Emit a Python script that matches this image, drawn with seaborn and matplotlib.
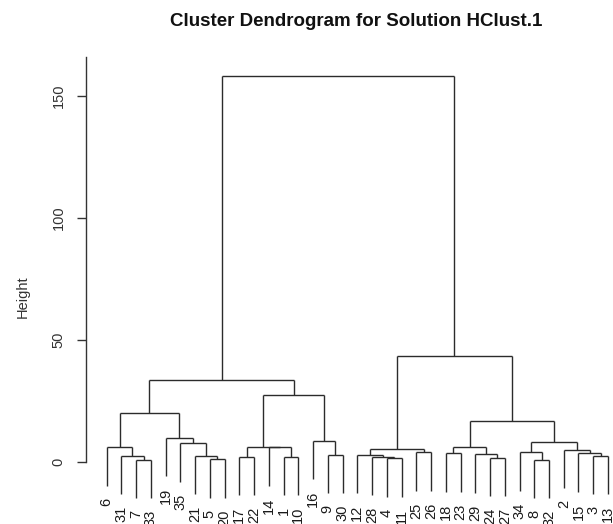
import numpy as np
import pandas as pd
import matplotlib
matplotlib.use("Agg")
import matplotlib.pyplot as plt
import seaborn as sns

# ---- data: hierarchical clustering merges (R hclust convention) ----
# negative = leaf (observation number), positive = earlier merge (1-based)
merge_a = [-8, -7, -5, -4, -24, -28, -1, -17, -3, -31, -21, -12, -9, -29, -18, -15, -25,
           -34, -2, 12, -6, -14, 15, 8, -35, 18, -16, -19, 23, 21, 24, 30, 20, 32]
merge_b = [-32, -33, -20, -11, -27, 4, -10, -22, -13, 2, 3, 6, -30, 5, -23, 9, -26,
           1, 16, 17, 10, 7, 14, 22, 11, 19, 13, 25, 26, 28, 27, 31, 29, 33]
merge_h = [0.7, 0.8, 0.9, 1.3, 1.5, 2.0, 2.0, 2.1, 2.3, 2.5, 2.5, 2.9, 2.9, 3.0, 3.4, 3.4, 3.8,
           3.8, 4.8, 5.2, 5.9, 5.9, 5.9, 6.0, 7.5, 8.2, 8.6, 9.7, 16.6, 19.9, 27.2, 33.3, 43.5, 158.0]
y_ticks = [0, 50, 100, 150]
title = "Cluster Dendrogram for Solution HClust.1"
y_label = "Height"

# ---- compute leaf order and node positions ----
n_merge = len(merge_h)
root = n_merge

def leaves_of(node):
    if node < 0:
        return [-node]
    return leaves_of(merge_a[node - 1]) + leaves_of(merge_b[node - 1])

order = leaves_of(root)
leaf_x = {leaf: i + 1 for i, leaf in enumerate(order)}
hang = 0.1 * (max(merge_h) - min(merge_h))

node_x = {}
def xpos(node):
    if node < 0:
        return leaf_x[-node]
    if node not in node_x:
        node_x[node] = (xpos(merge_a[node - 1]) + xpos(merge_b[node - 1])) / 2
    return node_x[node]

segs = []
leaf_bottom = {}
for k in range(1, n_merge + 1):
    h = merge_h[k - 1]
    ca, cb = merge_a[k - 1], merge_b[k - 1]
    xa, xb = xpos(ca), xpos(cb)
    segs.append(((xa, xb), (h, h)))
    for c, xc in ((ca, xa), (cb, xb)):
        if c < 0:
            y0 = h - hang
            leaf_bottom[-c] = y0
        else:
            y0 = merge_h[c - 1]
        segs.append(((xc, xc), (y0, h)))

# ---- plot ----
sns.set_theme(style="white")
plt.rcParams["font.family"] = ["Liberation Sans", "DejaVu Sans"]

W, H = 613, 524
fig = plt.figure(figsize=(W / 100, H / 100), dpi=100)
ax_l, ax_r, ax_t, ax_b = 86, 613, 57, 515
ax = fig.add_axes([ax_l / W, 1 - ax_b / H, (ax_r - ax_l) / W, (ax_b - ax_t) / H])

for (xs, ys) in segs:
    ax.plot(xs, ys, color="#2b2b2b", lw=1.0, solid_capstyle="butt")

ax.set_xlim(-0.40, 35.34)
ax.set_ylim(-21.9, 166.0)

for leaf in order:
    ax.annotate(str(leaf), xy=(leaf_x[leaf], leaf_bottom[leaf]), xytext=(0, -8.5),
                textcoords="offset points", rotation=90, ha="center", va="top",
                fontsize=10.5, color="#1a1a1a", annotation_clip=False)

for s in ["top", "right", "bottom"]:
    ax.spines[s].set_visible(False)
ax.spines["left"].set_bounds(0, 166.0)
ax.spines["left"].set_color("#333333")
ax.spines["left"].set_linewidth(1.0)
ax.set_xticks([])
ax.set_yticks(y_ticks)
ax.set_yticklabels([str(t) for t in y_ticks], rotation=90, va="center", fontsize=10.5, color="#333333")
ax.tick_params(axis="y", left=True, length=6.5, width=1.0, color="#333333", pad=8)
ax.set_ylabel(y_label, fontsize=10.5, color="#333333")
ax.yaxis.set_label_coords((30 - ax_l) / (ax_r - ax_l), (ax_b - 297) / (ax_b - ax_t))
ax.patch.set_alpha(0)

fig.text(356 / W, 1 - 21 / H, title, ha="center", va="center", fontsize=13.5,
         fontweight="bold", color="#111111")

fig.savefig("out.png", dpi=100)
